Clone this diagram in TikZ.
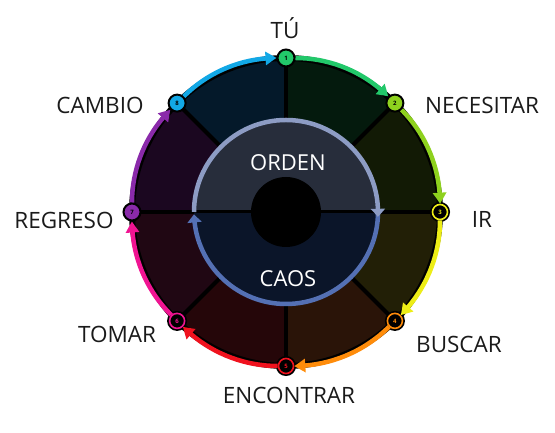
\documentclass[tikz,border=0pt]{standalone}
\usepackage{fontspec}
\setmainfont{Open Sans}
\usetikzlibrary{arrows.meta,bending,calc}
\definecolor{s1}{HTML}{041A0D}
\definecolor{s2}{HTML}{121A05}
\definecolor{s3}{HTML}{221F06}
\definecolor{s4}{HTML}{2A1408}
\definecolor{s5}{HTML}{250609}
\definecolor{s6}{HTML}{200713}
\definecolor{s7}{HTML}{1B0720}
\definecolor{s8}{HTML}{04192A}
\definecolor{c1}{HTML}{22C86A}
\definecolor{c2}{HTML}{8ED11E}
\definecolor{c3}{HTML}{EDED16}
\definecolor{c4}{HTML}{FF8C0A}
\definecolor{c5}{HTML}{F0121E}
\definecolor{c6}{HTML}{F01492}
\definecolor{c7}{HTML}{8A2AAA}
\definecolor{c8}{HTML}{12A8E6}
\definecolor{topfill}{HTML}{272D3B}
\definecolor{botfill}{HTML}{0B1529}
\definecolor{ringtop}{HTML}{8D9CC4}
\definecolor{ringbot}{HTML}{5470B4}
\definecolor{labelgray}{HTML}{1A1A1A}
\begin{document}
\begin{tikzpicture}[x=1pt,y=1pt,
  spoke/.style={black,line width=4pt},
  filledpt/.style={circle,draw=black,line width=2pt,minimum size=17pt,inner sep=0pt,font=\fontsize{6}{6}\selectfont\bfseries,text=black},
  ringpt/.style={circle,preaction={draw=black,line width=5pt},line width=1.6pt,fill=black,minimum size=15pt,inner sep=0pt,font=\fontsize{6}{6}\selectfont\bfseries},
  outarc/.style={line width=4.5pt,looseness=0.885,-{Triangle[length=11pt,width=13pt,bend]}},
  lbl/.style={text=labelgray,font=\fontsize{22.5}{24}\selectfont,inner sep=0pt},
  inlbl/.style={text=white,font=\fontsize{22}{24}\selectfont,inner sep=0pt},
  inarc/.style={line width=4.5pt,-{Triangle[length=8pt,width=14pt,bend]}}
]
\useasboundingbox (0,0) rectangle (555,433);
\coordinate (C) at (286,221);
\def\R{154}
% sectors
\foreach \a/\col in {45/s1,0/s2,-45/s3,-90/s4,-135/s5,180/s6,135/s7,90/s8}{
  \fill[\col] (C) -- ++(\a:\R) arc[start angle=\a,end angle=\a+45,radius=\R] -- cycle;
}
\foreach \a in {0,45,...,315}{\draw[spoke] (C) -- ++(\a:\R);}
\draw[black,line width=6pt] (C) circle[radius=\R];
% nodes
\node[filledpt,fill=c1] (n1) at ($(C)+(90:\R)$) {1};
\node[filledpt,fill=c2] (n2) at ($(C)+(45:\R)$) {2};
\node[ringpt,draw=c3,text=c3] (n3) at ($(C)+(0:\R)$) {3};
\node[ringpt,draw=c4,text=c4] (n4) at ($(C)+(-45:\R)$) {4};
\node[ringpt,draw=c5,text=c5] (n5) at ($(C)+(-90:\R)$) {5};
\node[ringpt,draw=c6,text=c6] (n6) at ($(C)+(-135:\R)$) {6};
\node[filledpt,fill=c7] (n7) at ($(C)+(180:\R)$) {7};
\node[filledpt,fill=c8] (n8) at ($(C)+(135:\R)$) {8};
% outer arcs
\draw[outarc,c1] (n1) to[bend left=22.5] (n2);
\draw[outarc,c2] (n2) to[bend left=22.5] (n3);
\draw[outarc,c3] (n3) to[bend left=22.5] (n4);
\draw[outarc,c4] (n4) to[bend left=22.5] (n5);
\draw[outarc,c5] (n5) to[bend left=22.5] (n6);
\draw[outarc,c6] (n6) to[bend left=22.5] (n7);
\draw[outarc,c7] (n7) to[bend left=22.5] (n8);
\draw[outarc,c8] (n8) to[bend left=22.5] (n1);
% inner disc
\def\r{92}
\fill[topfill] ($(C)+(0:\r)$) arc[start angle=0,end angle=180,radius=\r] -- cycle;
\fill[botfill] ($(C)+(180:\r)$) arc[start angle=180,end angle=360,radius=\r] -- cycle;
\coordinate (hl) at ($(C)+(-\r,0)$);
\coordinate (hr) at ($(C)+(\r,0)$);
\draw[black,line width=3pt] (hl) -- (hr);
\fill[black] (C) circle[radius=35];
\draw[inarc,ringbot] ($(C)+(0:\r)$) arc[start angle=360,end angle=181.5,radius=\r];
\draw[inarc,ringtop] ($(C)+(180:\r)$) arc[start angle=180,end angle=-3,radius=\r];
% labels
\node[lbl,anchor=base] (tu) at (285,394) {TÚ};
\node[lbl] (necesitar) at (482,328) {NECESITAR};
\node[lbl] (ir) at (482,214) {IR};
\node[lbl] (buscar) at (459,89) {BUSCAR};
\node[lbl] (encontrar) at (289,38) {ENCONTRAR};
\node[lbl] (tomar) at (117,99) {TOMAR};
\node[lbl] (regreso) at (64,213) {REGRESO};
\node[lbl] (cambio) at (100,328) {CAMBIO};
\node[inlbl] (orden) at (288,270) {ORDEN};
\node[inlbl] (caos) at (288,154) {CAOS};
\end{tikzpicture}
\end{document}
